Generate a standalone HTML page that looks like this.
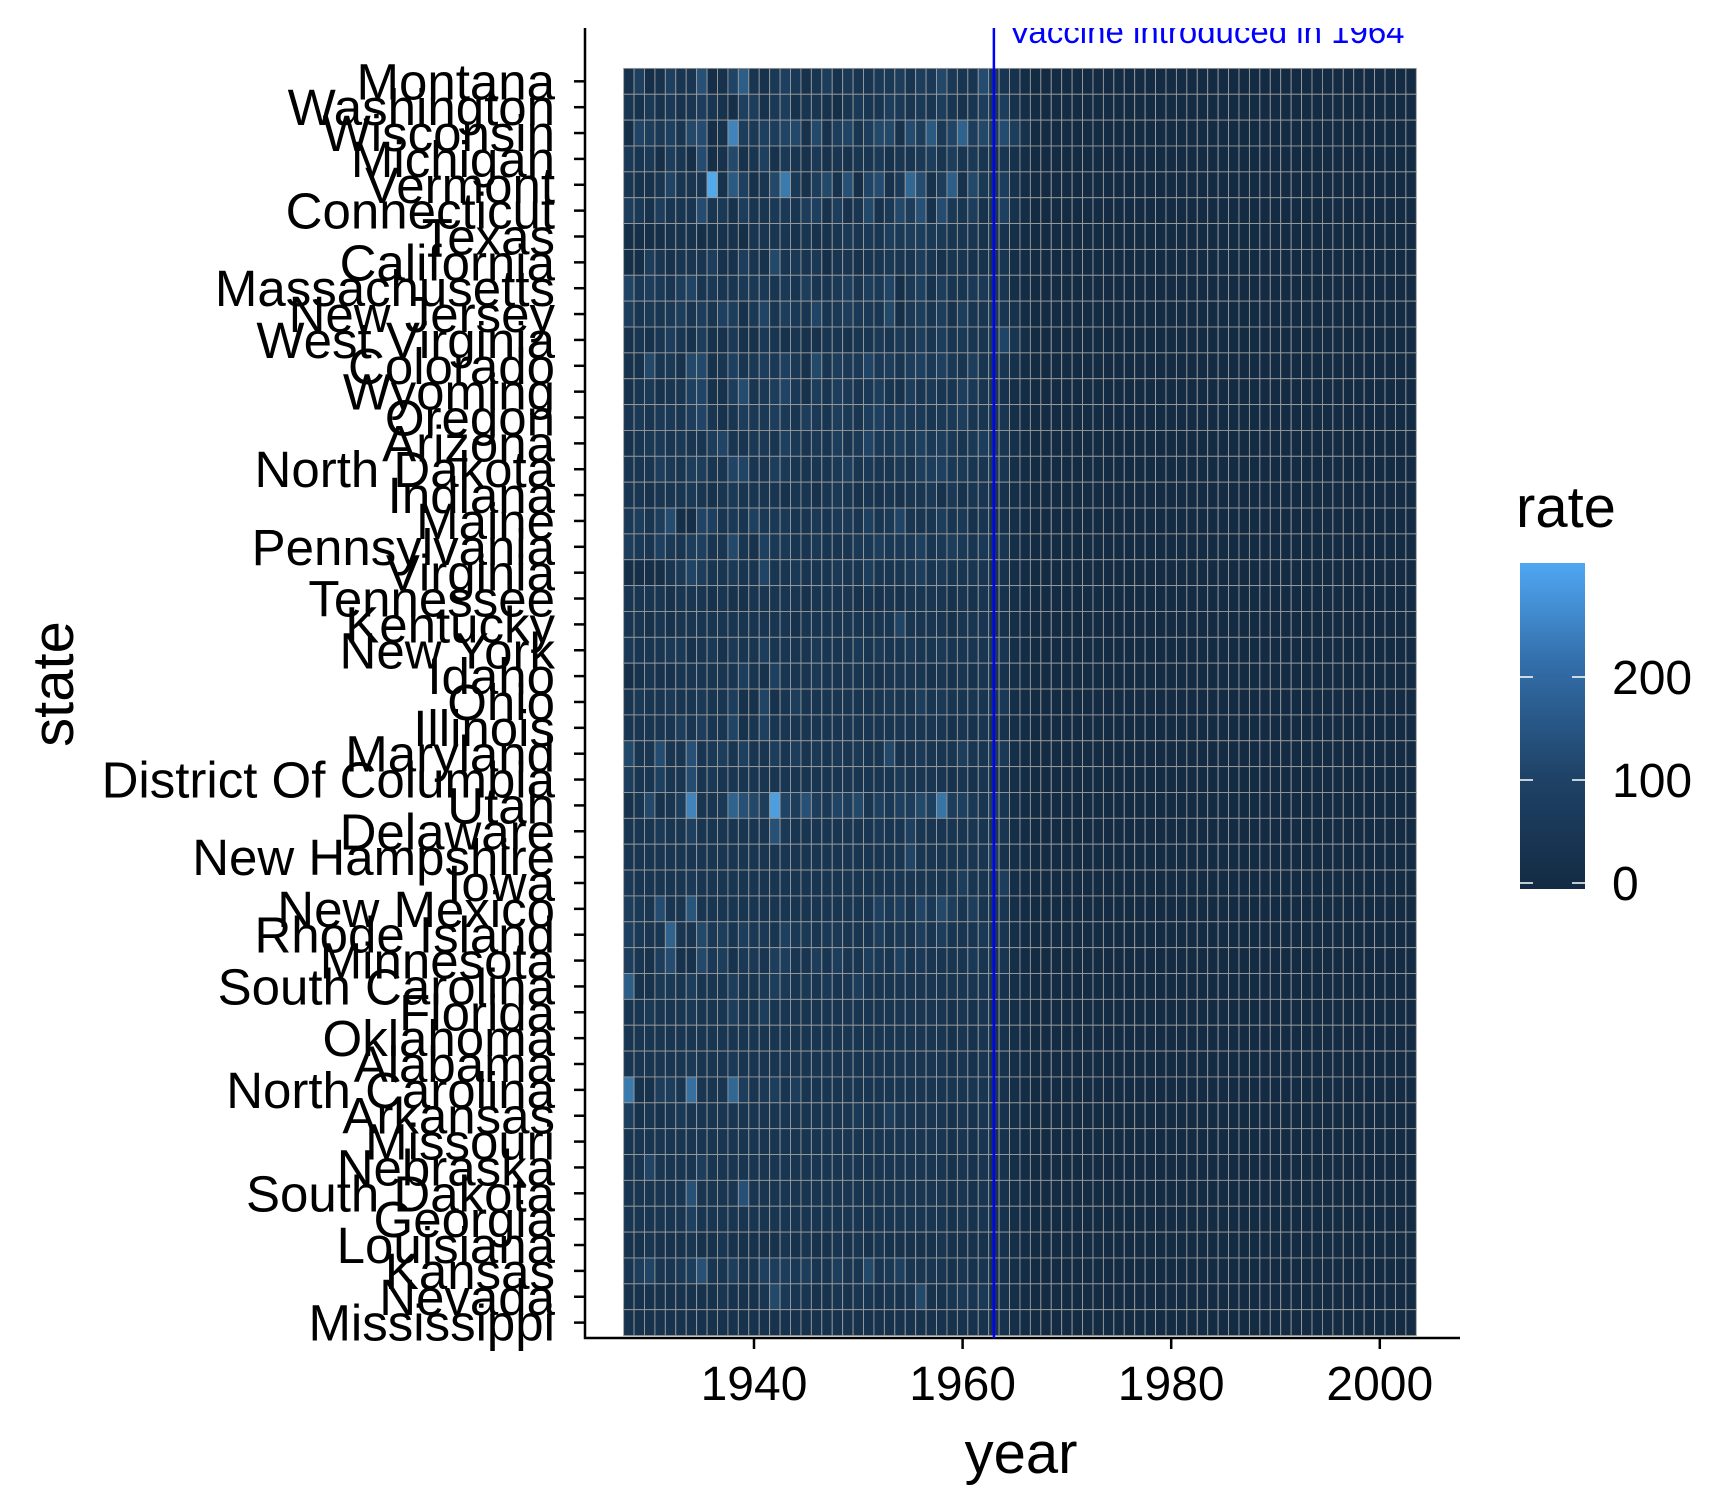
<!DOCTYPE html>
<html><head><meta charset="utf-8">
<style>
html,body{margin:0;padding:0;background:#fff;}
svg{display:block;font-family:"Liberation Sans",Arial,sans-serif;}
</style></head>
<body>
<svg id="chart" width="1728" height="1512" viewBox="0 0 1728 1512" xmlns="http://www.w3.org/2000/svg">
<defs>
<clipPath id="panelClip"><rect x="585" y="28" width="880" height="1312"/></clipPath>
<linearGradient id="legendGrad" x1="0" y1="1" x2="0" y2="0">
<stop offset="0" stop-color="#132B43"/><stop offset="0.35" stop-color="#1F4368"/><stop offset="0.7" stop-color="#336FAB"/><stop offset="1" stop-color="#4FA7F3"/>
</linearGradient>
</defs>
<g id="cells"></g>
<g id="axes"></g>
</svg>
<script>
const states = ["Montana","Washington","Wisconsin","Michigan","Vermont","Connecticut","Texas","California","Massachusetts","New Jersey","West Virginia","Colorado","Wyoming","Oregon","Arizona","North Dakota","Indiana","Maine","Pennsylvania","Virginia","Tennessee","Kentucky","New York","Idaho","Ohio","Illinois","Maryland","District Of Columbia","Utah","Delaware","New Hampshire","Iowa","New Mexico","Rhode Island","Minnesota","South Carolina","Florida","Oklahoma","Alabama","North Carolina","Arkansas","Missouri","Nebraska","South Dakota","Georgia","Louisiana","Kansas","Nevada","Mississippi"];
const startYear = 1928;
const endYear = 2003;
const vaccineYear = 1963;
const legendTicks = [0,100,200];
const xTicks = [1940,1960,1980,2000];
const rateMax = 305;
const rates = [
[30,70,20,30,70,40,40,110,20,30,80,140,40,30,50,70,50,30,40,60,30,50,40,40,50,50,60,40,60,50,90,50,40,40,100,50,40,30,15],
[40,30,50,30,50,30,40,60,40,30,20,70,60,30,50,60,30,40,40,30,20,40,50,40,40,60,50,40,50,40,60,40,30,40,60,40,60,30,15],
[20,80,60,50,70,40,90,100,20,30,220,60,50,70,60,80,90,30,90,30,60,80,40,60,90,90,30,100,60,130,50,80,150,60,90,60,100,60,30],
[50,40,50,20,60,40,20,100,20,30,90,30,40,70,30,50,40,30,50,30,40,30,40,40,50,30,40,40,50,60,40,60,40,50,40,30,40,25,15],
[40,30,30,40,80,40,40,40,290,30,130,70,30,40,90,200,50,30,60,90,30,110,20,80,100,30,50,160,100,30,60,140,30,90,50,40,60,30,15],
[60,50,30,60,40,40,40,100,40,50,30,60,40,40,50,50,40,60,70,30,60,30,40,90,30,50,90,60,110,30,100,50,40,60,30,40,70,30,15],
[20,20,20,20,30,30,30,20,30,30,30,20,40,40,40,40,30,40,30,30,40,50,40,50,40,60,50,60,60,50,50,40,40,40,30,40,30,20,10],
[20,20,60,40,30,40,40,40,60,30,30,60,40,30,90,40,50,40,50,20,40,40,30,40,40,50,40,40,60,40,30,40,40,30,30,30,40,20,10],
[80,50,60,50,40,60,80,40,50,40,40,50,50,50,40,50,40,60,40,40,50,60,40,60,50,80,20,50,70,30,60,40,40,50,50,40,40,20,10],
[60,40,50,40,50,60,40,60,40,70,60,30,50,80,40,60,50,40,80,40,50,60,50,50,40,90,20,50,60,40,60,30,60,40,40,50,40,30,10],
[30,40,30,40,60,40,30,60,30,30,50,30,30,50,40,30,40,30,30,40,40,30,40,40,50,40,50,40,60,40,60,40,50,40,40,50,80,40,20],
[30,30,90,40,50,30,90,90,30,40,70,40,50,60,50,70,50,30,90,40,60,50,50,80,50,60,40,60,70,50,70,50,40,60,40,40,40,25,10],
[30,40,50,30,40,40,70,80,30,30,60,100,40,50,60,80,50,30,60,40,60,50,40,50,60,40,30,60,40,50,40,40,60,50,40,40,30,20,10],
[40,50,40,50,50,40,60,80,40,30,40,60,50,50,60,50,40,60,50,40,60,50,40,60,70,50,60,50,50,40,50,50,60,40,40,40,40,20,10],
[30,40,50,50,40,50,40,40,60,80,40,40,50,50,40,70,50,40,50,40,60,40,50,80,50,50,60,50,70,50,60,50,40,50,60,50,40,25,10],
[40,40,40,60,50,40,60,60,40,40,80,80,40,40,60,50,40,40,40,40,50,60,40,50,40,40,50,40,60,60,70,50,50,40,40,50,40,20,10],
[40,40,30,40,40,40,50,40,30,40,50,40,40,40,40,30,40,40,30,40,50,40,30,40,30,40,30,40,40,50,30,50,30,40,40,30,30,20,10],
[50,60,40,60,100,20,20,80,70,40,50,40,70,50,50,50,40,40,50,40,50,50,40,70,40,50,80,40,40,40,60,40,50,30,40,30,30,20,10],
[60,50,40,70,50,40,60,70,40,40,90,40,30,70,50,50,40,40,50,40,40,40,50,50,60,50,50,50,70,40,50,60,50,40,50,40,40,20,10],
[20,20,20,20,40,50,80,60,40,40,50,40,40,80,40,40,50,40,40,40,50,40,40,60,40,40,40,50,60,40,50,40,40,40,40,30,30,20,10],
[40,40,40,40,30,40,40,40,30,40,30,30,40,40,40,40,40,30,40,40,40,40,30,40,30,40,30,40,40,40,40,30,40,30,40,30,30,20,10],
[40,40,30,40,30,40,40,40,40,40,40,40,40,40,40,40,30,40,40,40,40,40,40,40,40,40,80,40,40,40,40,30,40,40,40,30,30,20,10],
[50,40,40,40,50,50,30,40,50,30,50,40,40,60,40,40,40,40,50,40,40,40,50,40,50,40,40,50,40,40,50,40,40,40,40,50,40,20,10],
[20,30,40,30,30,40,40,40,40,40,40,60,40,30,70,40,40,40,50,40,40,40,40,40,30,40,40,40,40,30,40,30,40,30,40,30,30,20,10],
[40,50,40,40,50,40,40,50,40,40,60,30,30,80,30,40,60,40,40,40,40,40,40,40,40,50,40,40,60,40,50,40,40,40,40,40,50,20,10],
[40,40,40,40,40,60,40,60,40,40,80,30,40,70,40,40,40,40,40,40,40,40,40,40,40,40,40,40,40,40,40,30,40,30,40,30,30,20,10],
[90,40,40,100,40,40,110,40,50,60,40,70,40,40,60,40,60,40,50,40,50,40,50,40,40,90,30,40,50,40,40,40,60,40,40,50,50,20,10],
[60,40,40,70,40,40,100,40,50,40,40,40,40,40,40,40,40,40,40,40,40,40,40,40,40,40,50,40,40,40,40,30,40,30,40,30,30,20,10],
[30,40,90,30,40,60,220,40,40,50,150,110,90,60,270,80,60,110,60,50,80,60,90,40,70,50,70,60,90,70,190,60,70,50,40,60,40,20,10],
[40,40,40,50,40,40,70,40,40,40,40,40,40,40,110,50,40,40,40,40,40,40,40,40,50,40,40,70,40,40,40,40,40,40,40,40,40,20,10],
[40,40,40,40,40,40,40,40,40,40,40,40,40,40,40,40,40,40,40,40,40,40,40,40,40,40,40,80,40,40,40,40,40,40,40,60,30,20,10],
[50,40,40,40,40,40,50,40,40,40,40,40,40,40,40,40,40,40,40,40,40,40,40,40,40,40,40,40,40,40,40,40,60,40,40,40,60,20,10],
[60,50,40,100,40,40,120,40,40,40,40,40,40,40,40,40,40,40,40,40,40,40,40,40,70,50,60,40,80,50,90,60,40,60,40,40,40,20,10],
[70,50,40,40,150,40,40,90,50,60,40,60,50,50,40,70,50,50,40,50,50,40,40,40,60,40,50,40,60,40,60,40,40,40,50,40,40,20,10],
[60,40,30,60,100,30,30,90,50,60,30,50,50,40,60,60,40,40,60,40,60,40,40,60,50,40,70,40,50,40,40,40,40,50,40,40,40,20,10],
[140,30,30,50,50,40,60,40,40,40,60,40,40,50,60,50,40,50,40,50,40,40,60,40,40,40,40,40,40,40,40,40,40,40,40,40,30,20,10],
[40,40,50,40,40,40,50,40,40,40,60,40,40,60,40,40,40,40,40,40,40,40,40,40,40,40,40,40,40,40,40,30,40,30,40,30,30,20,10],
[40,40,40,40,40,40,40,40,40,40,40,40,40,40,40,40,40,40,40,40,40,40,40,40,40,40,40,40,40,40,40,30,40,30,40,30,30,20,10],
[40,40,40,40,40,40,50,40,40,40,50,40,40,40,40,40,40,40,40,40,40,40,40,40,40,40,40,40,40,40,40,30,40,30,40,30,30,20,10],
[200,30,30,60,60,40,180,40,40,40,160,60,40,50,60,40,60,40,40,40,40,40,40,40,40,40,40,40,40,40,40,40,40,40,40,40,30,20,10],
[60,30,40,30,40,50,40,40,40,40,40,40,40,40,40,40,40,40,40,40,40,40,50,40,40,60,40,40,40,40,40,30,40,30,40,40,30,20,10],
[40,40,40,40,40,40,40,40,40,40,40,40,40,40,40,40,40,40,40,40,40,40,40,40,40,40,40,40,40,40,40,30,40,30,40,30,30,20,10],
[40,40,80,40,40,40,40,60,40,40,40,40,40,40,40,40,40,40,40,40,40,40,40,40,40,40,40,40,40,40,40,30,40,30,40,30,30,20,10],
[40,40,40,40,40,40,110,40,40,40,40,110,40,40,40,40,40,40,40,40,40,40,40,40,40,40,40,40,40,40,40,30,40,30,40,30,30,20,10],
[40,40,40,40,40,40,70,40,40,40,40,40,40,40,40,40,40,40,40,40,40,40,40,40,40,40,40,40,40,40,40,30,40,30,40,30,30,20,10],
[30,30,40,30,30,30,40,30,30,40,30,30,30,30,30,40,30,40,30,30,40,30,40,30,40,30,30,30,30,30,40,30,30,30,30,30,30,20,10],
[40,60,80,40,40,50,60,110,40,40,60,40,40,70,60,60,50,60,40,40,60,40,40,90,40,50,70,40,40,40,40,30,40,30,40,30,30,20,10],
[30,30,30,30,30,30,30,30,30,40,30,30,30,40,90,50,40,40,30,30,40,30,40,40,30,40,30,40,90,30,30,40,50,40,50,30,30,20,10],
[30,30,30,30,30,30,30,30,30,30,30,30,30,30,30,30,30,30,30,30,30,30,30,30,30,30,30,30,30,30,30,30,30,30,30,30,30,20,10]
];
const NS="http://www.w3.org/2000/svg";
const svg=document.getElementById('chart');
const cellsG=document.getElementById('cells');
const axesG=document.getElementById('axes');
const X0=754, PXY=10.43;
function xScale(yr){return X0+(yr-1940)*PXY;}
const TOP=68.4, RH=25.86;
function yScale(i){return TOP+i*RH;}
const lo=[0x13,0x2B,0x43], hi=[0x56,0xB1,0xF7];
function color(v){let t=Math.max(0,Math.min(1,v/rateMax));t=Math.pow(t,1.25);
return 'rgb('+lo.map((c,k)=>Math.round(c+(hi[k]-c)*t)).join(',')+')';}
function mk(tag,attrs,parent){const e=document.createElementNS(NS,tag);for(const k in attrs)e.setAttribute(k,attrs[k]);(parent||svg).appendChild(e);return e;}
states.forEach((s,i)=>{
  for(let yr=startYear;yr<=endYear;yr++){
    const v=(rates[i]&&rates[i][yr-startYear]!==undefined)?rates[i][yr-startYear]:2;
    const r=mk('rect',{x:xScale(yr-0.5),y:yScale(i),width:PXY,height:RH,fill:color(v),stroke:'#9a9a9a','stroke-width':0.9},cellsG);
    
    
  }
  const lab=mk('text',{x:555,y:yScale(i)+RH/2+18,'text-anchor':'end','font-size':51,fill:'#000'},axesG);
  lab.textContent=s;
  
  
  const tk=mk('line',{x1:574,x2:585,y1:yScale(i)+RH/2,y2:yScale(i)+RH/2,stroke:'#000','stroke-width':2.5},axesG);
  
  
});
const vl=mk('line',{x1:xScale(vaccineYear),x2:xScale(vaccineYear),y1:28,y2:1338,stroke:'#0000FF','stroke-width':2.5});


const vt=mk('text',{x:xScale(vaccineYear)+15,y:43,'font-size':33,fill:'#0000FF','clip-path':'url(#panelClip)'});
vt.textContent='Vaccine introduced in 1964';


const ya=mk('line',{x1:585,x2:585,y1:28,y2:1339,stroke:'#000','stroke-width':2.5},axesG);


const xa=mk('line',{x1:584,x2:1460,y1:1338,y2:1338,stroke:'#000','stroke-width':2.5},axesG);


xTicks.forEach(t=>{
  const l=mk('line',{x1:xScale(t),x2:xScale(t),y1:1338,y2:1349,stroke:'#000','stroke-width':2.5},axesG);
  
  
  const tx=mk('text',{x:xScale(t),y:1400,'text-anchor':'middle','font-size':48,fill:'#000'},axesG);
  tx.textContent=t;
  
  
});
const xt=mk('text',{x:1021,y:1473,'text-anchor':'middle','font-size':58,fill:'#000'},axesG);
xt.textContent='year';


const yt=mk('text',{x:0,y:0,'text-anchor':'middle','font-size':58,fill:'#000',transform:'translate(73,684) rotate(-90)'},axesG);
yt.textContent='state';


const lt=mk('text',{x:1516,y:527,'font-size':58,fill:'#000'});
lt.textContent='rate';


const LB=883, LPX=1.03;
const lbar=mk('rect',{x:1520,y:563,width:65,height:326,fill:'url(#legendGrad)'});


legendTicks.forEach(v=>{
  const y=LB-v*LPX;
  const a=mk('line',{x1:1520,x2:1533,y1:y,y2:y,stroke:'#fff','stroke-width':1.5});
  
  
  const b=mk('line',{x1:1572,x2:1585,y1:y,y2:y,stroke:'#fff','stroke-width':1.5});
  
  
  const tx=mk('text',{x:1612,y:y+17,'font-size':48,fill:'#000'});
  tx.textContent=v;
  
  
});
</script>
</body></html>
